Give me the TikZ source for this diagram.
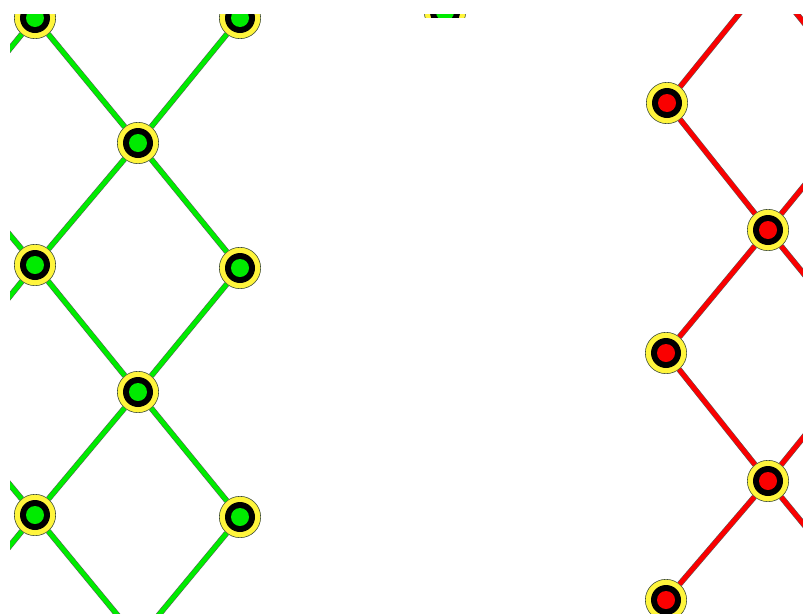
\documentclass[tikz,border=0pt]{standalone}
\usepackage{tikz}
\usetikzlibrary{positioning}
\definecolor{leafgreen}{RGB}{0,235,0}
\definecolor{leafred}{RGB}{250,0,0}
\definecolor{ringyellow}{RGB}{255,245,60}
\definecolor{ringedge}{RGB}{60,75,55}

\begin{document}
\begin{tikzpicture}[x=0.3mm, y=-0.3mm,
  bead/.style={circle, inner sep=0pt, minimum size=12.4mm, fill=ringyellow,
    draw=ringedge, line width=0.5pt,
    path picture={\fill[black] (path picture bounding box.center) circle (4.5mm);
                  \fill[#1] (path picture bounding box.center) circle (2.7mm);}},
  link/.style={draw=black!65, double=#1, double distance=4pt, line width=0.45pt}]
  \useasboundingbox (0,0) rectangle (803,613);
  \clip (10,14) rectangle (803,613);
  % green lattice
  \foreach \n/\x/\y in {g1/35/18, g2/240/18, g3/138/143, g4/35/265,
                        g5/240/268, g6/138/392, g7/35/515, g8/240/517}{
    \node[bead=leafgreen] (\n) at (\x,\y) {};
  }
  \coordinate (ga) at (-67,143);
  \coordinate (gb) at (-67,392);
  \coordinate (gc) at (-67,640);
  \coordinate (gd) at (138,640);
  \foreach \a/\b in {g1/g3, g2/g3, g3/g4, g3/g5, g4/g6, g5/g6, g6/g7, g6/g8,
                     g1/ga, g4/ga, g4/gb, g7/gb, g7/gc, g7/gd, g8/gd}{
    \draw[link=leafgreen] (\a) -- (\b);
  }
  % sliver of a green node at the top edge
  \begin{scope}
    \clip (415,14) rectangle (475,17);
    \node[bead=leafgreen] (g0) at (445,12) {};
  \end{scope}
  % red lattice
  \foreach \n/\x/\y in {r1/667/103, r2/768/230, r3/666/353, r4/768/481, r5/666/600}{
    \node[bead=leafred] (\n) at (\x,\y) {};
  }
  \coordinate (ra) at (768,-22);
  \coordinate (rb) at (870,105);
  \coordinate (rc) at (870,355);
  \coordinate (rd) at (870,605);
  \foreach \a/\b in {r1/ra, ra/rb, r1/r2, r2/rb, r2/rc, r2/r3, r3/r4,
                     r4/rc, r4/rd, r4/r5}{
    \draw[link=leafred] (\a) -- (\b);
  }
\end{tikzpicture}
\end{document}
